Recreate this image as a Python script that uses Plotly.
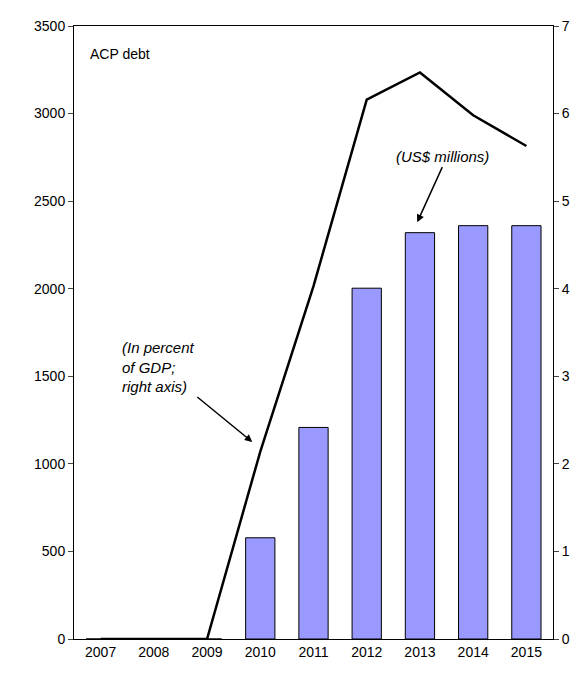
import plotly.graph_objects as go

years = ["2007","2008","2009","2010","2011","2012","2013","2014","2015"]
debt_usd = [0,0,0,578,1208,2003,2320,2360,2360]
debt_pct = [0,0,0,2.14,4.03,6.16,6.47,5.98,5.63]

fig = go.Figure()
fig.add_bar(x=years, y=debt_usd, marker=dict(color="#9999ff", line=dict(color="black", width=1)), width=0.55)
fig.add_scatter(x=years, y=debt_pct, yaxis="y2", mode="lines", line=dict(color="black", width=2.5))

fig.update_layout(
    width=585, height=679, showlegend=False, plot_bgcolor="white", paper_bgcolor="white",
    margin=dict(l=66, r=40, t=10, b=48),
    font=dict(family="Liberation Sans, Arial", size=14, color="black"),
    xaxis=dict(type="category", range=[-0.5, len(years)-0.5], showline=True, linecolor="black",
               mirror=True, ticks="", tickfont=dict(size=14)),
    yaxis=dict(range=[0,3500], tickvals=[0,500,1000,1500,2000,2500,3000,3500], showline=True, linecolor="black", ticks="outside",
               ticklen=5, showgrid=False, zeroline=False),
    yaxis2=dict(range=[0,7], tickvals=[0,1,2,3,4,5,6,7], overlaying="y", side="right", showline=True, linecolor="black",
                ticks="outside", ticklen=5, showgrid=False, zeroline=False),
    annotations=[
        dict(xref="paper", yref="paper", x=0.03, y=0.97, text="ACP debt", showarrow=False,
             xanchor="left", yanchor="top", font=dict(size=14)),
        dict(x=2.85, y=2.25, xref="x", yref="y2", ax=-55, ay=-45, text="<i>(In percent<br>of GDP;<br>right axis)</i>",
             showarrow=True, arrowhead=2, arrowwidth=1.5, arrowcolor="black", align="left", xanchor="right", yanchor="bottom",
             font=dict(size=15)),
        dict(x=5.95, y=2380, xref="x", yref="y", ax=25, ay=-55, text="<i>(US$ millions)</i>",
             showarrow=True, arrowhead=2, arrowwidth=1.5, arrowcolor="black", yanchor="bottom", font=dict(size=15)),
    ],
)
fig.write_html("out.html")
